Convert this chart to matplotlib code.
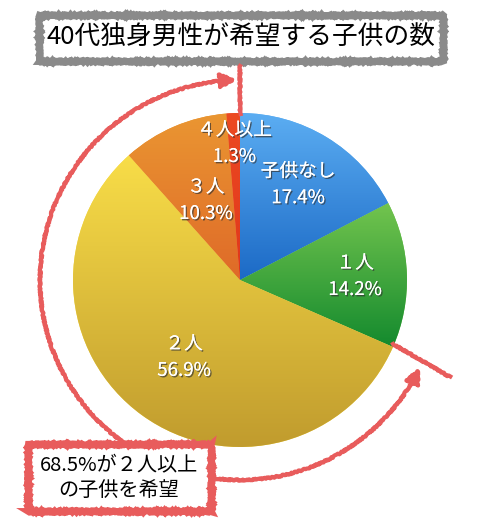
import matplotlib
matplotlib.use("Agg")
import matplotlib.pyplot as plt
import matplotlib.patheffects as pe
from matplotlib.colors import LinearSegmentedColormap
from matplotlib.patches import FancyArrowPatch, Rectangle
from matplotlib.path import Path
import numpy as np

plt.rcParams['font.family'] = ['Noto Sans CJK JP', 'DejaVu Sans']

# data
categories = ['子供なし', '１人', '２人', '３人', '４人以上']
shares = [17.4, 14.2, 56.9, 10.3, 1.3]
pct_labels = ['17.4%', '14.2%', '56.9%', '10.3%', '1.3%']
title = '40代独身男性が希望する子供の数'
note = '68.5%が２人以上\nの子供を希望'

# gradient colours per slice (top, bottom)
grad = [('#5badf2', '#1c6ac6'),
        ('#72c44e', '#148a2e'),
        ('#f8dd48', '#c19c2e'),
        ('#ea9632', '#df6a28'),
        ('#ec4a22', '#e0361c')]
label_r = [0.67, 0.69, 0.57, 0.52, 0.82]

W, H = 488, 528
fig = plt.figure(figsize=(W / 100, H / 100), dpi=100)
ax = fig.add_axes([0, 0, 1, 1])

cx, cy, R = 240, H - 280, 167
wedges, _ = ax.pie(shares, startangle=90, counterclock=False, center=(cx, cy),
                   radius=R, colors=[g[0] for g in grad], frame=True)
ax.set_xlim(0, W)
ax.set_ylim(0, H)
ax.set_aspect('equal')
ax.axis('off')

for w, (c1, c2) in zip(wedges, grad):
    ext = w.get_path().get_extents()
    cm = LinearSegmentedColormap.from_list('g', [c2, c1])
    img = ax.imshow(np.linspace(0, 1, 100).reshape(-1, 1), cmap=cm, origin='lower',
                    extent=[ext.x0, ext.x1, ext.y0, ext.y1], aspect='auto', zorder=2)
    img.set_clip_path(w)

shadow = [pe.withSimplePatchShadow(offset=(1, -1), shadow_rgbFace='#333333', alpha=0.7),
          pe.Normal()]
for w, cat, pct, r in zip(wedges, categories, pct_labels, label_r):
    th = np.deg2rad((w.theta1 + w.theta2) / 2)
    x = cx + r * R * np.cos(th)
    y = cy + r * R * np.sin(th)
    ax.text(x, y, cat + '\n' + pct, color='white', fontsize=13.5, ha='center', va='center',
            linespacing=1.35, zorder=5, path_effects=shadow)

red = '#e85c5c'
sk = dict(scale=0.7, length=2, randomness=3)

# title box
tb = Rectangle((39, H - 61), 404, 46, facecolor='white', edgecolor='#8a8a8a', lw=5, zorder=6)
tb.set_sketch_params(**sk)
ax.add_patch(tb)
ax.text(241, H - 38, title, fontsize=18.5, ha='center', va='center', color='black', zorder=7)

# vertical marker at the top and tick at lower right
ln, = ax.plot([240, 240], [H - 66, H - 114], color=red, lw=3, zorder=6)
ln.set_sketch_params(**sk)
ln, = ax.plot([393, 450], [H - 344, H - 377], color=red, lw=3, zorder=6)
ln.set_sketch_params(**sk)

# curved arrows
Ra = 200
t1 = np.deg2rad(np.linspace(236, 91, 80))
p1 = np.column_stack([cx + Ra * np.cos(t1), cy + Ra * np.sin(t1)])
a1 = FancyArrowPatch(path=Path(p1), arrowstyle='-|>', mutation_scale=22, color=red,
                     lw=3, zorder=6)
a1.set_sketch_params(**sk)
ax.add_patch(a1)

t2 = np.deg2rad(np.linspace(-97, -26, 60))
p2 = np.column_stack([cx + Ra * np.cos(t2), cy + Ra * np.sin(t2)])
a2 = FancyArrowPatch(path=Path(p2), arrowstyle='-|>', mutation_scale=22, color=red,
                     lw=3, zorder=6)
a2.set_sketch_params(**sk)
ax.add_patch(a2)

# note box
nb = Rectangle((28, H - 511), 183, 67, facecolor='white', edgecolor=red, lw=5, zorder=7)
nb.set_sketch_params(**sk)
ax.add_patch(nb)
ax.text(119, H - 478, note, fontsize=14.5, ha='center', va='center', color='black',
        linespacing=1.3, zorder=8)

fig.savefig('out.png', dpi=100)
